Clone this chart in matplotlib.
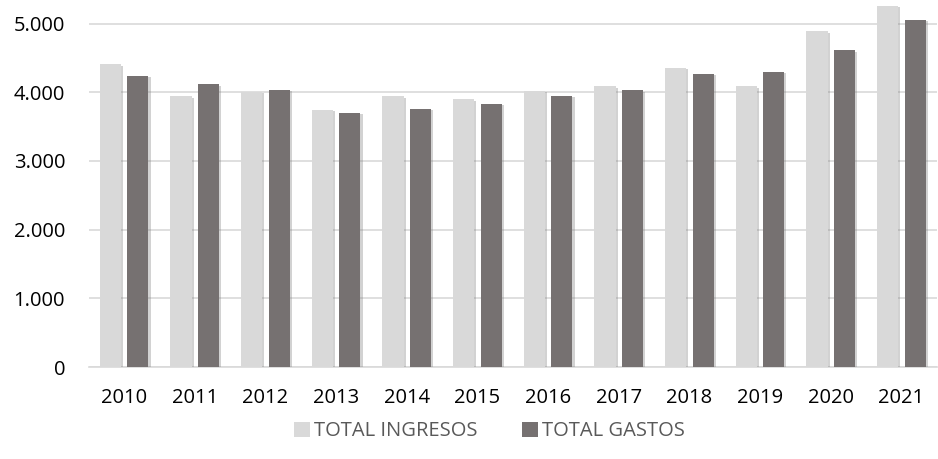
import numpy as np
import matplotlib
matplotlib.use("Agg")
import matplotlib.pyplot as plt
import matplotlib.patheffects as pe
from matplotlib.ticker import FuncFormatter

years = ["2010", "2011", "2012", "2013", "2014", "2015",
         "2016", "2017", "2018", "2019", "2020", "2021"]
ingresos = [4408, 3942, 4004, 3748, 3942, 3898, 4019, 4087, 4354, 4087, 4888, 5256]
gastos = [4237, 4116, 4039, 3705, 3763, 3830, 3946, 4029, 4266, 4296, 4611, 5052]

plt.rcParams['font.family'] = ['Open Sans', 'DejaVu Sans']

fig = plt.figure(figsize=(9.38, 4.59), dpi=100)
ax = fig.add_axes([0.0946, 0.2004, 0.904, 0.793])

x = np.arange(len(years))
w = 0.30
shadow = [pe.withSimplePatchShadow(offset=(1.5, -1), shadow_rgbFace='#808080', alpha=0.35)]
b1 = ax.bar(x - 0.195, ingresos, w, color='#D9D9D9', label='TOTAL INGRESOS', zorder=3)
b2 = ax.bar(x + 0.195, gastos, w, color='#767171', label='TOTAL GASTOS', zorder=3)
for p in list(b1) + list(b2):
    p.set_path_effects(shadow)

ax.set_xlim(-0.5, len(years) - 0.5)
ax.set_ylim(0, 5300)
ax.set_yticks([0, 1000, 2000, 3000, 4000, 5000])
ax.yaxis.set_major_formatter(FuncFormatter(lambda v, p: f"{int(v):,}".replace(",", ".")))
ax.set_xticks(x)
ax.set_xticklabels(years)
ax.grid(axis='y', color='#D9D9D9', linewidth=1.2, zorder=0)
for s in ['top', 'right', 'left']:
    ax.spines[s].set_visible(False)
ax.spines['bottom'].set_color('#D9D9D9')
ax.spines['bottom'].set_linewidth(1.2)
ax.tick_params(axis='both', length=0, labelsize=14.5, colors='black')
ax.tick_params(axis='x', pad=15)
ax.tick_params(axis='y', pad=17)

leg = fig.legend(handles=[b1, b2], loc='center', bbox_to_anchor=(0.522, 0.06),
                 ncol=2, frameon=False, fontsize=14.5, handlelength=0.8, handleheight=0.8,
                 handletextpad=0.2, columnspacing=2.2)
for t in leg.get_texts():
    t.set_color('#595959')
for h in leg.legend_handles:
    h.set_path_effects([])

fig.savefig('out.png', dpi=100)
